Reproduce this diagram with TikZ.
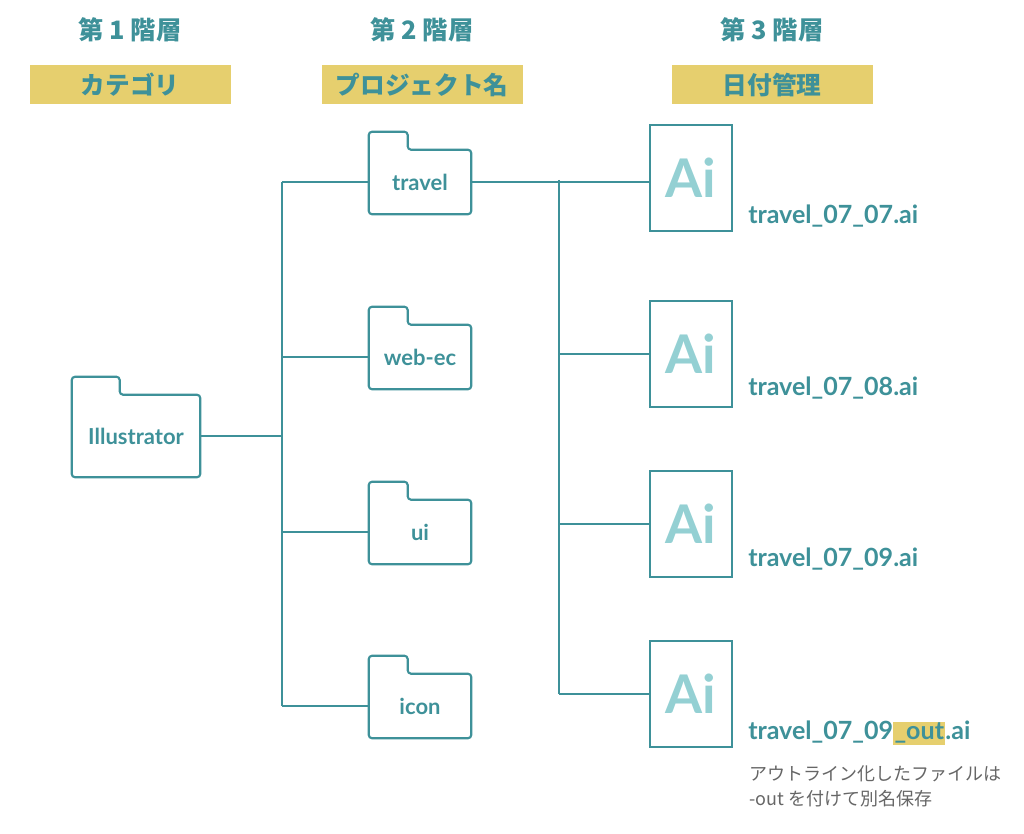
\documentclass[tikz,border=0pt]{standalone}
\usepackage{fontspec}
\setmainfont{Lato}
\newfontfamily\jpfont{Noto Sans CJK JP}
\usetikzlibrary{positioning}
\definecolor{teal1}{HTML}{3E9199}
\definecolor{aiteal}{HTML}{94D0D3}
\definecolor{hl}{HTML}{E6CF6E}
\definecolor{note}{HTML}{666666}
\tikzset{
  level/.style={text=teal1, font=\jpfont\bfseries\fontsize{19}{22}\selectfont},
  tag/.style={fill=hl, minimum width=150.75pt, minimum height=29.25pt,
    text=teal1, font=\jpfont\bfseries\fontsize{18.5}{22}\selectfont},
  folder/.style={minimum width=76.5pt, minimum height=48pt, text=teal1,
    font=\bfseries\fontsize{16.5}{18}\selectfont},
  big folder/.style={folder, minimum width=96pt, minimum height=61.5pt},
  ai/.style={draw=teal1, line width=1.6pt, minimum width=61.5pt,
    minimum height=79.5pt, text=aiteal, font=\bfseries\fontsize{40}{44}\selectfont},
  fname/.style={anchor=west, inner sep=0pt, text=teal1,
    font=\bfseries\fontsize{18.8}{20}\selectfont},
  link/.style={draw=teal1, line width=1.6pt}
}
\begin{document}
\begin{tikzpicture}[x=0.75pt, y=-0.75pt]
  \useasboundingbox (0,0) rectangle (1024,834);
  % headings
  \node[level] (l1) at (130,30) {第 1 階層};
  \node[level] (l2) at (422,30) {第 2 階層};
  \node[level] (l3) at (772,30) {第 3 階層};
  \node[tag] (t1) at (130,85) {カテゴリ};
  \node[tag] (t2) at (422,85) {プロジェクト名};
  \node[tag] (t3) at (772,85) {日付管理};

  % folders
  \node[big folder] (illu) at (136,436) {Illustrator};
  \node[folder] (travel) at (420,182) {travel};
  \node[folder] (webec) at (420,357) {web-ec};
  \node[folder] (ui) at (420,532) {ui};
  \node[folder] (icon) at (420,706) {icon};
  \foreach \f/\w in {illu/48, travel/39, webec/39, ui/39, icon/39}
    \draw[link, rounded corners=2.5pt] (\f.north west) -- ++(0,-18) -- ++(\w,0)
      -- ++(0,18) -- (\f.north east) -- (\f.south east) -- (\f.south west) -- cycle;

  % files
  \node[ai] (a1) at (691,178) {Ai};
  \node[ai] (a2) at (691,354) {Ai};
  \node[ai] (a3) at (691,524) {Ai};
  \node[ai] (a4) at (691,694) {Ai};
  \node[fname] (f1) at (748,216) {travel\_07\_07.ai};
  \node[fname] (f2) at (748,388) {travel\_07\_08.ai};
  \node[fname] (f3) at (748,559) {travel\_07\_09.ai};
  \node[fname] (f4) at (748,733) {travel\_07\_09{\setlength\fboxsep{1pt}\colorbox{hl}{\_out}}.ai};
  \node[anchor=north west, inner sep=0pt, align=left, text=note,
    font=\jpfont\fontsize{13.5}{19}\selectfont] (memo) at (749,765)
    {アウトライン化したファイルは\\-out を付けて別名保存};

  % tree lines
  \coordinate (j1) at (282,436);
  \coordinate (j2) at (559,180);
  \draw[link] (illu.east) -- (j1);
  \draw[link] (travel.west -| j1) -- (icon.west -| j1);
  \foreach \f in {travel, webec, ui, icon}
    \draw[link] (\f.west -| j1) -- (\f.west);
  \draw[link] (travel.east) -- (travel.east -| a1.west);
  \draw[link] (j2) -- (a4.west -| j2);
  \foreach \a in {a2, a3, a4}
    \draw[link] (\a.west -| j2) -- (\a.west);
\end{tikzpicture}
\end{document}
